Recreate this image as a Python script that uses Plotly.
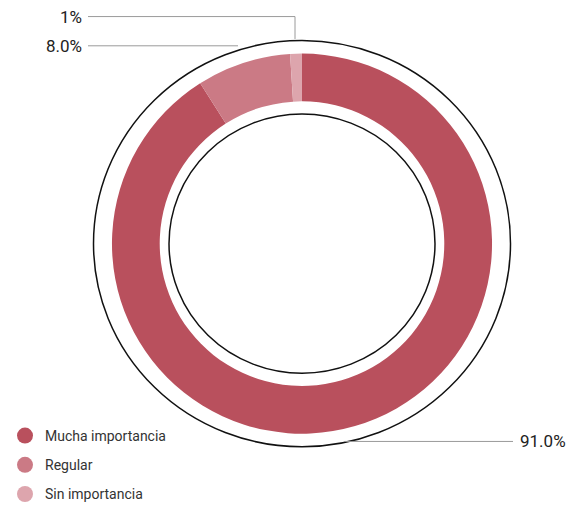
import plotly.graph_objects as go

# ---- data ----
categories = ["Mucha importancia", "Regular", "Sin importancia"]
values = [91.0, 8.0, 1.0]
value_labels = ["91.0%", "8.0%", "1%"]
colors = ["#B9505D", "#CB7A85", "#DDA5AD"]

W, H = 571, 510


def px(x):
    return x / W


def py(y):
    return 1 - y / H


cx, cy = 302, 250
r_out, r_in = 195, 146
ring_outer, ring_inner = 208.5, 133

fig = go.Figure()

fig.add_trace(go.Pie(
    labels=categories,
    values=values,
    marker=dict(colors=colors, line=dict(width=0)),
    hole=r_in / r_out,
    sort=False,
    direction="clockwise",
    rotation=0,
    textinfo="none",
    hoverinfo="label+percent",
    showlegend=False,
    domain=dict(x=[px(cx - r_out), px(cx + r_out)], y=[py(cy + r_out), py(cy - r_out)]),
))

# legend entries with circular markers
for cat, col in zip(categories, colors):
    fig.add_trace(go.Scatter(
        x=[None], y=[None], mode="markers", name=cat,
        marker=dict(symbol="circle", size=18, color=col),
        legendgroup=cat, showlegend=True,
    ))

shapes = []
# black rings
for r in (ring_outer, ring_inner):
    shapes.append(dict(type="circle", xref="paper", yref="paper",
                       x0=px(cx - r), x1=px(cx + r), y0=py(cy + r), y1=py(cy - r),
                       line=dict(color="#111111", width=1.5), fillcolor="rgba(0,0,0,0)"))

line_style = dict(color="#9a9a9a", width=1)
# leader lines
leaders = [
    [(345, 453), (513, 453)],
    [(88, 47), (238, 47)],
    [(88, 17), (295, 17), (295, 40)],
]
for pts in leaders:
    path = "M " + " L ".join(f"{px(x)},{py(y)}" for x, y in pts)
    shapes.append(dict(type="path", xref="paper", yref="paper", path=path, line=line_style))

annotations = [
    dict(text=value_labels[0], x=px(518), y=py(453), xanchor="left", yanchor="middle"),
    dict(text=value_labels[1], x=px(84), y=py(47), xanchor="right", yanchor="middle"),
    dict(text=value_labels[2], x=px(84), y=py(17), xanchor="right", yanchor="middle"),
]
for a in annotations:
    a.update(xref="paper", yref="paper", showarrow=False,
             font=dict(family="Roboto", size=17, color="#222222"))

fig.update_layout(
    width=W, height=H,
    margin=dict(l=0, r=0, t=0, b=0),
    paper_bgcolor="white", plot_bgcolor="white",
    xaxis=dict(visible=False), yaxis=dict(visible=False),
    shapes=shapes, annotations=annotations,
    legend=dict(x=px(5), y=py(431), xanchor="left", yanchor="top",
                font=dict(family="Roboto", size=14, color="#333333"),
                tracegroupgap=8, itemsizing="trace", bgcolor="rgba(0,0,0,0)"),
)

fig.write_html(
    "out.html",
    config={"displayModeBar": False},
    post_script="document.body.style.margin='0';document.body.style.overflow='hidden';",
)
